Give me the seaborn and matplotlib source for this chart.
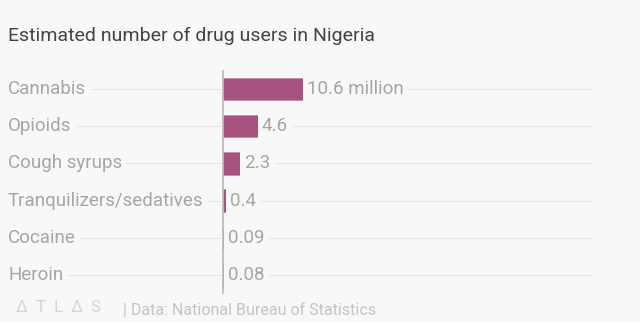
import matplotlib
matplotlib.use("Agg")
import matplotlib.pyplot as plt
import seaborn as sns
import pandas as pd
from matplotlib.transforms import blended_transform_factory

categories = ["Cannabis", "Opioids", "Cough syrups", "Tranquilizers/sedatives", "Cocaine", "Heroin"]
values = [10.6, 4.6, 2.3, 0.4, 0.09, 0.08]
value_labels = ["10.6 million", "4.6", "2.3", "0.4", "0.09", "0.08"]

df = pd.DataFrame({"drug": categories, "users": values})

BG = "#f8f8f8"
BAR = "#a8527f"
sns.set_style("white")
plt.rcParams["font.family"] = ["Roboto", "DejaVu Sans"]

W, H = 640, 322
fig = plt.figure(figsize=(W / 100, H / 100), dpi=100, facecolor=BG)

ax_left, ax_right = 8, 593
row_top, row_bottom = 70.5, 293.5
ax = fig.add_axes([ax_left / W, 1 - row_bottom / H, (ax_right - ax_left) / W, (row_bottom - row_top) / H])
ax.set_facecolor(BG)

sns.barplot(data=df, y="drug", x="users", orient="h", color=BAR, ax=ax,
            width=0.6, saturation=1, zorder=3, edgecolor="#c58aa8", linewidth=0.6)

px_per_unit = 7.55
zero_px = 223
xmin = -(zero_px - ax_left) / px_per_unit
xmax = (ax_right - zero_px) / px_per_unit
ax.set_xlim(xmin, xmax)
ax.set_ylim(len(categories) - 0.5, -0.5)

for s in ax.spines.values():
    s.set_visible(False)
ax.set_xticks([])
ax.set_yticks([])
ax.set_xlabel("")
ax.set_ylabel("")

for i in range(len(categories)):
    ax.axhline(i, color="#e8e8e8", lw=0.8, zorder=1)

ax.axvline(0, color="#b8b8b8", lw=1.2, zorder=4, ymin=-0.01, ymax=1.0)

trans = blended_transform_factory(ax.transAxes, ax.transData)
for i, (cat, v, lab) in enumerate(zip(categories, values, value_labels)):
    ax.text(0, i, cat, transform=trans, ha="left", va="center", fontsize=13.5,
            color="#a6a6a6", zorder=5,
            bbox=dict(facecolor=BG, edgecolor="none", pad=3))
    ax.text(v + 0.55, i, lab, ha="left", va="center", fontsize=13.5,
            color="#a6a6a6", zorder=5,
            bbox=dict(facecolor=BG, edgecolor="none", pad=3))

fig.text(8 / W, 1 - 36 / H, "Estimated number of drug users in Nigeria",
         ha="left", va="center", fontsize=14, color="#444444")

fig.text(16 / W, 1 - 307 / H, "\u0394  T  L  \u0394  S", ha="left", va="center",
         fontsize=12, color="#d4d4d4")
fig.text(123 / W, 1 - 310 / H, "| Data: National Bureau of Statistics",
         ha="left", va="center", fontsize=11.5, color="#c4c4c4")

fig.savefig("out.png", dpi=100, facecolor=BG)
